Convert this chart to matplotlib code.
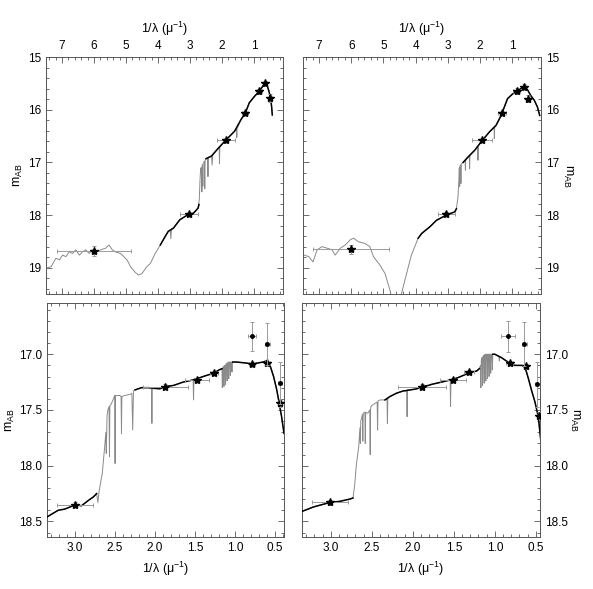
import matplotlib
matplotlib.use("Agg")
import matplotlib.pyplot as plt
import numpy as np
from matplotlib.ticker import MultipleLocator, FormatStrFormatter

plt.rcParams['font.family'] = ['Liberation Sans', 'DejaVu Sans']
plt.rcParams['mathtext.fontset'] = 'custom'
plt.rcParams['mathtext.rm'] = 'Liberation Sans'
plt.rcParams['mathtext.it'] = 'Liberation Sans:italic'
plt.rcParams['mathtext.default'] = 'rm'

# ---------------- data (1/lambda [1/micron], m_AB) ----------------
# top-left: model spectrum (grey)
tl_model = [(7.50, 19.01), (7.34, 18.98), (7.19, 18.82), (7.08, 18.85), (6.98, 18.76), (6.88, 18.79),
            (6.77, 18.70), (6.67, 18.73), (6.57, 18.66), (6.46, 18.76), (6.36, 18.70), (6.26, 18.66),
            (6.15, 18.73), (6.05, 18.66), (5.95, 18.70), (5.79, 18.66), (5.64, 18.63), (5.53, 18.57),
            (5.43, 18.66), (5.33, 18.70), (5.17, 18.73), (5.07, 18.79), (4.97, 18.85), (4.86, 18.98),
            (4.71, 19.09), (4.61, 19.14), (4.50, 19.11), (4.35, 18.98), (4.24, 18.92), (4.09, 18.73),
            (3.93, 18.57), (3.78, 18.41), (3.68, 18.31), (3.62, 18.28), (3.60, 18.45), (3.58, 18.26),
            (3.52, 18.25), (3.32, 18.09), (3.03, 17.98), (2.90, 17.97), (2.75, 17.87), (2.71, 17.70),
            (2.69, 17.35), (2.67, 17.12), (2.65, 17.10), (2.63, 17.56), (2.62, 17.05), (2.61, 17.05),
            (2.60, 17.45), (2.59, 17.02), (2.55, 16.98), (2.54, 17.50), (2.53, 16.96), (2.49, 16.93),
            (2.45, 16.92), (2.44, 17.27), (2.43, 16.91), (2.33, 16.88), (2.31, 17.05), (2.29, 16.86),
            (2.13, 16.74), (2.09, 16.71), (2.08, 17.02), (2.07, 16.70), (1.87, 16.57), (1.61, 16.41),
            (1.55, 16.37), (1.54, 16.53), (1.53, 16.36), (1.41, 16.19), (1.27, 16.06), (1.15, 15.87),
            (0.99, 15.75), (0.84, 15.65), (0.65, 15.49), (0.60, 15.52), (0.53, 15.66), (0.48, 15.80),
            (0.45, 15.95), (0.43, 16.10)]
# top-left: observed spectrum (black)
tl_obs = [(3.93, 18.57), (3.78, 18.41), (3.68, 18.31), (3.52, 18.25), (3.32, 18.09), (3.03, 17.98),
          (2.90, 17.97), (2.75, 17.87), (2.72, 17.80), (np.nan, np.nan),
          (2.50, 16.93), (2.33, 16.88), (2.13, 16.74), (1.87, 16.57), (1.61, 16.41), (1.41, 16.19),
          (1.27, 16.06), (1.15, 15.87), (0.99, 15.75), (0.84, 15.65), (0.65, 15.49), (0.60, 15.52),
          (0.53, 15.66), (0.48, 15.80), (0.45, 15.95), (0.43, 16.10)]
# top-left photometry: x, y, xerr, yerr
tl_phot = [(6.00, 18.68, 1.17, 0.09), (3.03, 17.98, 0.28, 0.03), (1.88, 16.57, 0.29, 0.04),
           (1.28, 16.07, 0.10, 0.04), (0.84, 15.65, 0.08, 0.05), (0.65, 15.50, 0.05, 0.05),
           (0.50, 15.78, 0.06, 0.07)]

# top-right
tr_model = [(7.58, 18.82), (7.47, 18.76), (7.32, 18.79), (7.19, 18.89), (7.06, 18.66), (6.91, 18.60),
            (6.75, 18.63), (6.60, 18.66), (6.50, 18.76), (6.34, 18.63), (6.19, 18.57), (6.03, 18.47),
            (5.93, 18.44), (5.77, 18.51), (5.57, 18.54), (5.42, 18.60), (5.31, 18.79), (5.11, 18.95),
            (4.95, 19.11), (4.80, 19.42), (4.64, 19.86), (4.54, 19.74), (4.33, 19.23), (4.13, 18.76),
            (3.92, 18.44), (3.81, 18.35), (3.55, 18.22), (3.35, 18.10), (3.04, 18.00), (2.78, 17.94),
            (2.73, 17.88), (2.68, 17.65), (2.65, 17.27), (2.64, 17.10), (2.63, 17.46), (2.62, 17.07),
            (2.60, 17.05), (2.59, 17.40), (2.58, 17.03), (2.52, 17.00), (2.46, 16.96), (2.45, 17.15),
            (2.44, 16.95), (2.37, 16.90), (2.33, 16.87), (2.32, 17.12), (2.31, 16.86), (2.16, 16.77),
            (2.07, 16.70), (2.06, 16.96), (2.05, 16.68), (1.96, 16.61), (1.70, 16.42), (1.56, 16.33),
            (1.55, 16.55), (1.54, 16.32), (1.50, 16.30), (1.34, 16.11), (1.24, 15.95), (1.14, 15.79),
            (0.98, 15.70), (0.78, 15.62), (0.62, 15.56), (0.52, 15.62), (0.42, 15.73), (0.31, 15.82),
            (0.21, 15.95), (0.14, 16.11)]
tr_obs = [(3.92, 18.44), (3.81, 18.35), (3.55, 18.22), (3.35, 18.10), (3.04, 18.00), (2.78, 17.94),
          (2.73, 17.88), (np.nan, np.nan),
          (2.52, 17.00), (2.37, 16.90), (2.16, 16.77), (1.96, 16.61), (1.70, 16.42), (1.50, 16.30),
          (1.34, 16.11), (1.24, 15.95), (1.14, 15.79), (0.98, 15.70), (0.78, 15.62), (0.62, 15.56),
          (0.52, 15.62), (0.42, 15.73), (0.31, 15.82), (0.21, 15.95), (0.14, 16.11)]
tr_phot = [(6.01, 18.65, 1.17, 0.09), (3.04, 17.98, 0.26, 0.03), (1.93, 16.57, 0.32, 0.04),
           (1.31, 16.07, 0.12, 0.04), (0.86, 15.64, 0.10, 0.06), (0.62, 15.56, 0.05, 0.05),
           (0.49, 15.79, 0.06, 0.07)]

# bottom-left
bl_model = [(3.35, 18.46), (3.21, 18.40), (3.13, 18.39), (3.06, 18.37), (3.00, 18.35), (2.92, 18.36),
            (2.83, 18.31), (2.77, 18.28), (2.73, 18.25), (2.715, 18.33), (2.70, 18.23), (2.66, 18.07),
            (2.63, 17.83), (2.615, 17.70), (2.61, 17.89), (2.60, 17.55), (2.59, 17.50), (2.575, 17.47),
            (2.57, 17.92), (2.565, 17.46), (2.55, 17.45), (2.52, 17.40), (2.505, 17.37), (2.50, 17.98),
            (2.495, 17.37), (2.48, 17.37), (2.44, 17.37), (2.425, 17.38), (2.42, 17.71), (2.415, 17.38),
            (2.38, 17.37), (2.31, 17.36), (2.29, 17.35), (2.28, 17.68), (2.27, 17.33), (2.25, 17.32),
            (2.17, 17.30), (2.08, 17.30), (2.045, 17.31), (2.04, 17.62), (2.035, 17.31), (1.94, 17.31),
            (1.875, 17.29), (1.77, 17.28), (1.65, 17.25), (1.525, 17.23), (1.52, 17.41), (1.515, 17.23),
            (1.40, 17.20), (1.27, 17.17), (1.20, 17.14), (1.165, 17.13), (1.16, 17.30), (1.155, 17.12),
            (1.145, 17.11), (1.14, 17.29), (1.135, 17.10), (1.125, 17.10), (1.12, 17.27), (1.115, 17.09),
            (1.105, 17.08), (1.10, 17.24), (1.095, 17.08), (1.085, 17.07), (1.08, 17.22), (1.075, 17.07),
            (1.065, 17.07), (1.06, 17.19), (1.055, 17.07), (1.045, 17.07), (1.04, 17.16), (1.035, 17.07),
            (0.98, 17.07), (0.85, 17.08), (0.79, 17.09), (0.73, 17.08), (0.65, 17.07), (0.61, 17.06),
            (0.56, 17.11), (0.52, 17.20), (0.48, 17.32), (0.45, 17.44), (0.42, 17.56), (0.39, 17.71)]
bl_obs = [(3.35, 18.46), (3.21, 18.40), (3.13, 18.39), (3.06, 18.37), (3.00, 18.35), (2.92, 18.36),
          (2.83, 18.31), (2.77, 18.28), (2.73, 18.25), (np.nan, np.nan),
          (2.25, 17.32), (2.17, 17.30), (2.08, 17.30), (1.94, 17.31), (1.875, 17.29), (1.77, 17.28),
          (1.65, 17.25), (1.52, 17.23), (1.40, 17.20), (1.27, 17.17), (1.20, 17.14), (1.165, 17.13),
          (np.nan, np.nan), (1.03, 17.07), (0.98, 17.07), (0.85, 17.08), (0.79, 17.09), (0.73, 17.08),
          (0.65, 17.07), (0.61, 17.06), (0.56, 17.11), (0.52, 17.20), (0.48, 17.32), (0.45, 17.44),
          (0.42, 17.56), (0.39, 17.71)]
bl_phot = [(3.00, 18.35, 0.22, 0.02), (1.875, 17.29, 0.28, 0.02), (1.48, 17.23, 0.15, 0.02),
           (1.27, 17.17, 0.05, 0.02), (0.79, 17.09, 0.04, 0.02), (0.60, 17.08, 0.03, 0.02),
           (0.44, 17.44, 0.03, 0.03)]
bl_extra = [(0.79, 16.84, 0.055, 0.13), (0.60, 16.91, 0.03, 0.19), (0.44, 17.26, 0.02, 0.19)]

# bottom-right
br_model = [(3.35, 18.41), (3.21, 18.37), (3.01, 18.33), (2.89, 18.32), (2.77, 18.30), (2.73, 18.29),
            (2.71, 18.18), (2.69, 18.00), (2.66, 17.83), (2.645, 17.66), (2.64, 17.80), (2.635, 17.60),
            (2.615, 17.54), (2.61, 17.78), (2.605, 17.53), (2.585, 17.52), (2.58, 17.80), (2.575, 17.52),
            (2.55, 17.53), (2.525, 17.50), (2.52, 17.90), (2.515, 17.48), (2.50, 17.46), (2.46, 17.44),
            (2.435, 17.43), (2.43, 17.68), (2.425, 17.42), (2.40, 17.41), (2.34, 17.41), (2.315, 17.40),
            (2.31, 17.62), (2.305, 17.39), (2.28, 17.38), (2.20, 17.35), (2.12, 17.33), (2.075, 17.33),
            (2.07, 17.56), (2.065, 17.32), (2.03, 17.32), (1.95, 17.31), (1.89, 17.29), (1.81, 17.28),
            (1.77, 17.27), (1.65, 17.25), (1.545, 17.23), (1.54, 17.47), (1.535, 17.23), (1.45, 17.21),
            (1.32, 17.17), (1.22, 17.15), (1.19, 17.13), (1.175, 17.10), (1.17, 17.30), (1.165, 17.05),
            (1.155, 17.03), (1.15, 17.28), (1.145, 17.02), (1.135, 17.01), (1.13, 17.26), (1.125, 17.005),
            (1.115, 17.00), (1.11, 17.24), (1.105, 17.00), (1.095, 17.00), (1.09, 17.22), (1.085, 17.00),
            (1.075, 17.00), (1.07, 17.20), (1.065, 17.00), (1.055, 17.00), (1.05, 17.17), (1.045, 17.00),
            (1.035, 17.00), (1.03, 17.14), (1.025, 17.00), (1.00, 17.00), (0.95, 17.02), (0.945, 17.06),
            (0.94, 17.02), (0.92, 17.03), (0.84, 17.07), (0.76, 17.10), (0.67, 17.10), (0.63, 17.12),
            (0.59, 17.22), (0.55, 17.33), (0.51, 17.43), (0.47, 17.56), (0.44, 17.77)]
br_obs = [(3.35, 18.41), (3.21, 18.37), (3.01, 18.33), (2.89, 18.32), (2.77, 18.30), (2.73, 18.29),
          (np.nan, np.nan),
          (2.34, 17.41), (2.28, 17.38), (2.20, 17.35), (2.12, 17.33), (2.03, 17.32), (1.95, 17.31),
          (1.89, 17.29), (1.81, 17.28), (1.77, 17.27), (1.65, 17.25), (1.54, 17.23), (1.45, 17.21),
          (1.32, 17.17), (1.22, 17.15), (1.19, 17.13), (np.nan, np.nan),
          (1.025, 17.00), (1.00, 17.00), (0.92, 17.03), (0.84, 17.07), (0.76, 17.10), (0.67, 17.10),
          (0.63, 17.12), (0.59, 17.22), (0.55, 17.33), (0.51, 17.43), (0.47, 17.56), (0.44, 17.77)]
br_phot = [(3.01, 18.33, 0.22, 0.02), (1.89, 17.29, 0.29, 0.02), (1.51, 17.23, 0.16, 0.02),
           (1.32, 17.16, 0.06, 0.02), (0.82, 17.08, 0.04, 0.02), (0.62, 17.11, 0.03, 0.02),
           (0.46, 17.55, 0.03, 0.03)]
br_extra = [(0.84, 16.84, 0.09, 0.14), (0.64, 16.91, 0.03, 0.20), (0.49, 17.27, 0.02, 0.20)]

top_xticks = [7, 6, 5, 4, 3, 2, 1]
top_yticks = [15, 16, 17, 18, 19]
bot_xticks = [3.0, 2.5, 2.0, 1.5, 1.0, 0.5]
bot_yticks = [17.0, 17.5, 18.0, 18.5]

XLABEL = '1/λ (μ$^{-1}$)'
YLABEL = 'm$_{AB}$'

# ---------------- figure ----------------
fig = plt.figure(figsize=(5.93, 5.89), dpi=100)
ax_tl = fig.add_axes([0.0776, 0.5008, 0.3994, 0.4024])
ax_tr = fig.add_axes([0.5110, 0.5008, 0.4013, 0.4024])
ax_bl = fig.add_axes([0.0793, 0.0883, 0.3996, 0.3973])
ax_br = fig.add_axes([0.5095, 0.0883, 0.4010, 0.3973])

GREY = '#8a8a8a'
EGREY = '#9a9a9a'
SPINE = '#555555'


def draw(ax, model, obs, phot, extra=None):
    m = np.array(model)
    ax.plot(m[:, 0], m[:, 1], color=GREY, lw=0.7, zorder=2)
    o = np.array(obs, dtype=float)
    ax.plot(o[:, 0], o[:, 1], color='black', lw=1.1, zorder=3)
    p = np.array(phot)
    ax.errorbar(p[:, 0], p[:, 1], xerr=p[:, 2], yerr=p[:, 3], fmt='none',
                ecolor=EGREY, elinewidth=0.7, capsize=1.5, capthick=0.7, zorder=4)
    ax.plot(p[:, 0], p[:, 1], linestyle='none', marker='*', ms=6, color='black',
            mec='black', zorder=5)
    if extra is not None:
        e = np.array(extra)
        ax.errorbar(e[:, 0], e[:, 1], xerr=e[:, 2], yerr=e[:, 3], fmt='o', ms=2.5,
                    color='black', ecolor=EGREY, elinewidth=0.7, capsize=1.5,
                    capthick=0.7, zorder=5)


def style(ax):
    for s in ax.spines.values():
        s.set_color(SPINE)
        s.set_linewidth(0.7)
    ax.tick_params(which='both', direction='in', top=True, bottom=True, left=True,
                   right=True, colors=SPINE, labelcolor='black', labelsize=8.5, width=0.6)
    ax.tick_params(which='major', length=4)
    ax.tick_params(which='minor', length=2)


draw(ax_tl, tl_model, tl_obs, tl_phot)
draw(ax_tr, tr_model, tr_obs, tr_phot)
draw(ax_bl, bl_model, bl_obs, bl_phot, bl_extra)
draw(ax_br, br_model, br_obs, br_phot, br_extra)

for ax in (ax_tl, ax_tr):
    style(ax)
    ax.set_xlim(7.5, 0.1)
    ax.set_ylim(19.5, 15.0)
    ax.set_xticks(top_xticks)
    ax.set_yticks(top_yticks)
    ax.xaxis.set_minor_locator(MultipleLocator(0.2))
    ax.yaxis.set_minor_locator(MultipleLocator(0.2))
    ax.tick_params(labeltop=True, labelbottom=False)
    ax.xaxis.set_label_position('top')
    ax.set_xlabel(XLABEL, fontsize=9, labelpad=5)

for ax in (ax_bl, ax_br):
    style(ax)
    ax.set_ylim(18.64, 16.54)
    ax.set_xticks(bot_xticks)
    ax.set_yticks(bot_yticks)
    ax.xaxis.set_major_formatter(FormatStrFormatter('%.1f'))
    ax.yaxis.set_major_formatter(FormatStrFormatter('%.1f'))
    ax.xaxis.set_minor_locator(MultipleLocator(0.1))
    ax.yaxis.set_minor_locator(MultipleLocator(0.1))
    ax.set_xlabel(XLABEL, fontsize=9, labelpad=4)
ax_bl.set_xlim(3.35, 0.39)
ax_br.set_xlim(3.35, 0.45)

ax_tl.set_ylabel(YLABEL, fontsize=9, va='center')
ax_tl.yaxis.set_label_coords(-0.115, 0.5)
ax_bl.set_ylabel(YLABEL, fontsize=9, va='center')
ax_bl.yaxis.set_label_coords(-0.155, 0.5)

for ax, xc in ((ax_tr, 1.11), (ax_br, 1.145)):
    ax.tick_params(labelleft=False, labelright=True)
    ax.yaxis.set_label_position('right')
    ax.set_ylabel(YLABEL, fontsize=9, rotation=270, va='center')
    ax.yaxis.set_label_coords(xc, 0.5)

fig.savefig('out.png', dpi=100)
